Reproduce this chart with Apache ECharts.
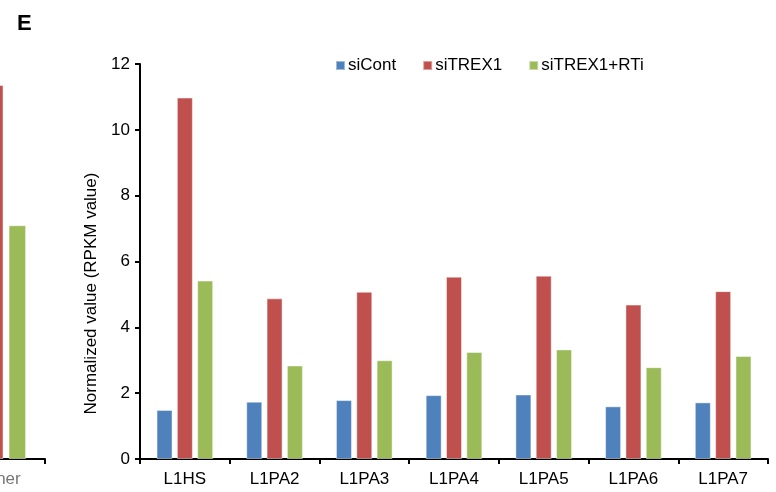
<!DOCTYPE html>
<html>
<head>
<meta charset="utf-8">
<script src="https://cdn.jsdelivr.net/npm/echarts@6/dist/echarts.min.js"></script>
<style>
  html, body { margin: 0; padding: 0; background: #fff; }
  #chart { width: 776px; height: 492px; }
</style>
</head>
<body>
<div id="chart"></div>
<script>
  // main panel E
  const categories = ['L1HS', 'L1PA2', 'L1PA3', 'L1PA4', 'L1PA5', 'L1PA6', 'L1PA7'];
  const siCont = [1.49, 1.74, 1.79, 1.94, 1.96, 1.60, 1.72];
  const siTREX1 = [10.98, 4.88, 5.08, 5.54, 5.57, 4.69, 5.10];
  const siTREX1RTi = [5.42, 2.84, 3.00, 3.25, 3.33, 2.79, 3.13];
  const yTicks = [0, 2, 4, 6, 8, 10, 12];

  // cut-off edge of the previous panel (left side)
  const prevCategories = ['Corner'];
  const prevSiCont = [1.5];
  const prevSiTREX1 = [11.36];
  const prevSiTREX1RTi = [7.1];

  const BLUE = '#4F81BD', RED = '#C0504D', GREEN = '#9BBB59';
  const FONT = 'Liberation Sans, Arial, sans-serif';

  const chart = echarts.init(document.getElementById('chart'));

  const axisLine = { show: true, lineStyle: { color: '#000', width: 2 } };
  const barStyle = c => ({ color: c, borderColor: 'rgba(255,255,255,0.45)', borderWidth: 1 });

  const option = {
    animation: false,
    title: {
      text: 'E', left: 12, top: 8,
      textStyle: { fontFamily: FONT, fontSize: 22, fontWeight: 'bold', color: '#000' }
    },
    legend: {
      left: 330, top: 52,
      itemWidth: 9, itemHeight: 9, itemGap: 26,
      icon: 'rect',
      textStyle: { fontFamily: FONT, fontSize: 17, color: '#000', padding: [0, 0, 0, -2] },
      data: ['siCont', 'siTREX1', 'siTREX1+RTi']
    },
    grid: [
      { left: 140, right: 8, top: 64, bottom: 33, outerBoundsMode: 'none' },
      { left: -55.5, width: 100.5, top: 64, bottom: 33, outerBoundsMode: 'none' }
    ],
    xAxis: [
      {
        type: 'category', gridIndex: 0, data: categories,
        axisLine,
        axisTick: { show: true, length: 5, lineStyle: { color: '#000', width: 2 } },
        axisLabel: { fontFamily: FONT, fontSize: 17, color: '#000', margin: 12 }
      },
      {
        type: 'category', gridIndex: 1, data: prevCategories,
        axisLine,
        axisTick: { show: true, length: 5, lineStyle: { color: '#000', width: 2 } },
        axisLabel: { fontFamily: FONT, fontSize: 17, color: '#777', margin: 12 }
      }
    ],
    yAxis: [
      {
        type: 'value', gridIndex: 0,
        min: yTicks[0], max: yTicks[yTicks.length - 1], interval: 2,
        name: 'Normalized value (RPKM value)',
        nameLocation: 'middle', nameGap: 38, nameRotate: 90,
        nameTextStyle: { fontFamily: FONT, fontSize: 17, color: '#000', padding: [0, 64, 0, 0] },
        axisLine,
        axisTick: { show: true, length: 5, lineStyle: { color: '#000', width: 2 } },
        axisLabel: { fontFamily: FONT, fontSize: 17, color: '#000', margin: 10 },
        splitLine: { show: false }
      },
      {
        type: 'value', gridIndex: 1, min: 0, max: 12, interval: 2,
        show: false, splitLine: { show: false }
      }
    ],
    series: [
      { name: 'siCont', type: 'bar', data: siCont, barWidth: 16, barGap: '27%', itemStyle: barStyle(BLUE) },
      { name: 'siTREX1', type: 'bar', data: siTREX1, barWidth: 16, barGap: '27%', itemStyle: barStyle(RED) },
      { name: 'siTREX1+RTi', type: 'bar', data: siTREX1RTi, barWidth: 16, barGap: '27%', itemStyle: barStyle(GREEN) },

      { name: 'prev1', type: 'bar', xAxisIndex: 1, yAxisIndex: 1, data: prevSiCont, barWidth: 17.5, barGap: '29%', itemStyle: barStyle(BLUE) },
      { name: 'prev2', type: 'bar', xAxisIndex: 1, yAxisIndex: 1, data: prevSiTREX1, barWidth: 17.5, barGap: '29%', itemStyle: barStyle(RED) },
      { name: 'prev3', type: 'bar', xAxisIndex: 1, yAxisIndex: 1, data: prevSiTREX1RTi, barWidth: 17.5, barGap: '29%', itemStyle: barStyle(GREEN) }
    ]
  };

  chart.setOption(option);
</script>
</body>
</html>
